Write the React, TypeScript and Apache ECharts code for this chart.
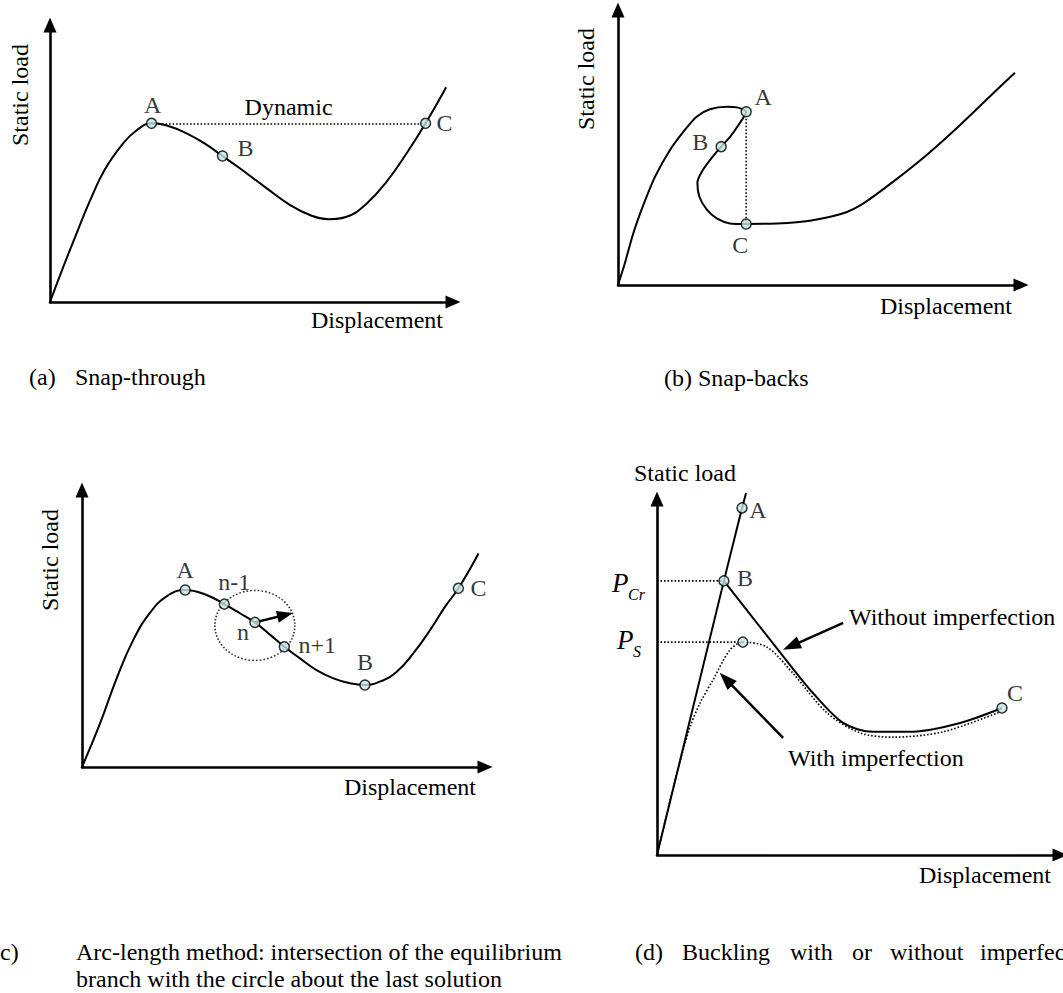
import React, { useEffect, useRef } from 'react';
import * as echarts from 'echarts';

const FONT = '"Liberation Serif", "Times New Roman", serif';

// ---------- (a) Snap-through ----------
const snapThroughCurve = [
  [0, 0], [3.3, 12.7], [6.6, 24.8], [9.9, 36.5], [13.6, 47.8], [18.0, 57.0],
  [21.5, 62.0], [25.2, 64.5], [29.0, 63.7], [33.9, 60.9], [38.9, 56.7],
  [42.8, 52.7], [47.1, 48.3], [53.8, 41.0], [59.6, 35.0], [64.5, 31.4],
  [69.1, 29.9], [73.6, 30.8], [78.6, 35.6], [83.5, 43.4], [88.5, 53.7],
  [93.2, 64.5], [98.3, 77.5],
];
const snapThroughPoints = [
  { name: 'A', value: [25.2, 64.5] },
  { name: 'B', value: [42.8, 52.7] },
  { name: 'C', value: [93.2, 64.5] },
];
const dynamicJump = [[25.2, 64.5], [93.2, 64.5]];

// ---------- (b) Snap-backs ----------
const snapBackCurve = [
  [0, 0], [1.7, 7.9], [3.8, 18.8], [6.3, 29.1], [9.2, 39.4], [12.9, 49.1],
  [16.2, 55.7], [19.5, 61.2], [22.8, 63.9], [27.0, 64.8], [29.5, 64.6],
  [31.8, 63.0], [29.9, 58.2], [27.8, 53.9], [25.6, 50.3], [23.2, 46.1],
  [20.8, 41.2], [19.7, 37.2], [20.2, 32.1], [22.0, 27.5], [24.5, 24.2],
  [27.8, 22.4], [31.8, 22.2], [39.4, 22.4], [47.6, 23.4], [55.9, 26.1],
  [60.9, 29.7], [68.3, 37.6], [76.6, 47.3], [84.9, 58.2], [93.1, 69.7], [98.5, 77.2],
];
const snapBackPoints = [
  { name: 'A', value: [31.8, 63.0] },
  { name: 'B', value: [25.6, 50.3] },
  { name: 'C', value: [31.8, 22.2] },
];
const snapBackJump = [[31.8, 63.0], [31.8, 22.2]];

// ---------- (c) Arc-length method ----------
const arcLengthCurve = [
  [0, 0], [4.5, 15.8], [8.6, 32.0], [12.7, 45.8], [16.9, 55.7], [21.0, 61.6],
  [25.6, 63.9], [30.9, 62.1], [35.3, 58.8], [39.2, 55.5], [42.9, 52.2],
  [46.7, 47.7], [50.2, 43.4], [54.1, 39.2], [58.2, 35.0], [62.4, 32.0],
  [66.5, 30.2], [70.2, 29.6], [73.9, 30.8], [78.1, 34.4], [82.2, 41.0],
  [86.4, 49.5], [90.1, 57.9], [93.4, 64.5], [98.4, 77.1],
];
const arcLengthPoints = [
  { name: 'A', value: [25.6, 63.9] },
  { name: 'n-1', value: [35.3, 58.8] },
  { name: 'n', value: [42.9, 52.2] },
  { name: 'n+1', value: [50.2, 43.4] },
  { name: 'B', value: [70.2, 29.6] },
  { name: 'C', value: [93.4, 64.5] },
];
const arcPredictor = [[42.9, 52.2], [50.4, 54.9]];

// ---------- (d) Buckling ----------
const bucklingPrimary = [[0, 0], [16.6, 77.0], [21.1, 97.5], [22.1, 101.7]];
const bucklingPerfect = [
  [16.6, 77.0], [31.8, 55.1], [38.7, 45.5], [46.2, 37.1], [53.6, 34.6],
  [62.8, 34.6], [75.2, 37.1], [85.6, 41.3],
];
const bucklingImperfect = [
  [0, 0], [4.0, 18.8], [6.5, 29.5], [8.2, 36.0], [10.7, 42.7], [13.9, 49.2],
  [18.1, 57.6], [21.3, 59.8], [27.3, 58.4], [33.7, 51.1], [42.2, 39.9],
  [50.4, 34.3], [58.6, 33.1], [71.0, 34.6], [85.1, 40.2],
];
const bucklingPoints = [
  { name: 'A', value: [21.1, 97.5] },
  { name: 'B', value: [16.6, 77.0] },
  { name: '', value: [21.3, 59.8] },
  { name: 'C', value: [85.6, 41.3] },
];
const criticalLoad = 77.0;
const snapLoad = 59.8;
const withoutArrow = [[46.2, 65.2], [33.3, 58.7]];
const withArrow = [[31.3, 32.9], [17.1, 49.4]];

// label offsets (style)
const labelOffsets: Record<string, Record<string, number[]>> = {
  a: { A: [1, -18], B: [23, -8], C: [19, 0] },
  b: { A: [17, -15], B: [-21, -5], C: [-6, 21] },
  c: { A: [0, -20], 'n-1': [10, -22], n: [-12, 10], 'n+1': [33, -2], B: [0, -23], C: [20, 0] },
  d: { A: [16, 2], B: [21, -3], C: [13, -15], '': [0, 0] },
};

const panels = [
  { left: 50, top: 25, width: 403, height: 277 },
  { left: 618, top: 10, width: 403, height: 275 },
  { left: 82, top: 490, width: 403, height: 277 },
  { left: 657, top: 499, width: 403, height: 356 },
];

const DOT = [1.6, 1.9];

function curve(idx: number, data: number[][], extra: any = {}) {
  return {
    type: 'line', xAxisIndex: idx, yAxisIndex: idx, data,
    smooth: 0.45, symbol: 'none', showSymbol: false, clip: false, silent: true,
    lineStyle: { color: '#000', width: 2 }, z: 3, ...extra,
  };
}

function dotted(idx: number, data: number[][], width = 1.6, smooth: any = false) {
  return {
    type: 'line', xAxisIndex: idx, yAxisIndex: idx, data,
    smooth, symbol: 'none', showSymbol: false, clip: false, silent: true,
    lineStyle: { color: '#000', width, type: DOT }, z: 2,
  };
}

function markers(idx: number, key: string, pts: { name: string; value: number[] }[]) {
  return {
    type: 'scatter', xAxisIndex: idx, yAxisIndex: idx, clip: false, silent: true,
    symbol: 'circle', symbolSize: 10,
    itemStyle: { color: '#c4e3e3', borderColor: '#000', borderWidth: 1.5 },
    label: {
      show: true, position: 'inside', formatter: '{b}', color: '#000',
      fontSize: 24, fontFamily: FONT, textBorderWidth: 0,
    },
    data: pts.map((p) => ({ name: p.name, value: p.value, label: { offset: labelOffsets[key][p.name] } })),
    z: 6,
  };
}

function arrow(idx: number, seg: number[][], size: number[]) {
  return {
    type: 'line', xAxisIndex: idx, yAxisIndex: idx, data: [], silent: true,
    markLine: {
      silent: true, animation: false,
      symbol: ['none', 'triangle'], symbolSize: size,
      label: { show: false },
      lineStyle: { color: '#000', width: 2.5, type: 'solid' },
      emphasis: { disabled: true },
      data: [[{ coord: seg[0] }, { coord: seg[1] }]],
    },
    z: 4,
  };
}

function T(text: string, x: number, y: number, o: any = {}) {
  const align = o.align || 'center';
  return {
    type: 'text', x, y, rotation: o.rotation || 0, silent: true,
    style: {
      text, fill: '#000',
      font: `${o.italic ? 'italic ' : ''}${o.size || 24}px ${FONT}`,
      textAlign: align, align, textVerticalAlign: 'middle', verticalAlign: 'middle',
    },
  };
}

function buildOption() {
  const axisBase = {
    type: 'value', min: 0, max: 100,
    axisLine: {
      show: true, onZero: true, symbol: ['none', 'triangle'], symbolSize: [13, 15],
      lineStyle: { color: '#000', width: 2.6 },
    },
    axisTick: { show: false }, axisLabel: { show: false }, splitLine: { show: false },
  };
  const series: any[] = [
    // (a)
    curve(0, snapThroughCurve),
    {
      type: 'line', xAxisIndex: 0, yAxisIndex: 0, data: [], silent: true,
      markLine: {
        silent: true, animation: false, symbol: ['none', 'none'],
        lineStyle: { color: '#000', width: 1.6, type: DOT },
        emphasis: { disabled: true },
        label: {
          show: true, position: 'insideMiddleTop', formatter: 'Dynamic', distance: 4,
          color: '#000', fontSize: 24, fontFamily: FONT,
        },
        data: [[{ coord: dynamicJump[0] }, { coord: dynamicJump[1] }]],
      },
      z: 2,
    },
    markers(0, 'a', snapThroughPoints),
    // (b)
    curve(1, snapBackCurve, { smooth: 0.25 }),
    dotted(1, snapBackJump),
    markers(1, 'b', snapBackPoints),
    // (c)
    curve(2, arcLengthCurve),
    {
      type: 'scatter', xAxisIndex: 2, yAxisIndex: 2, clip: false, silent: true,
      symbol: 'circle', symbolSize: [80, 70], symbolOffset: [0, 3],
      itemStyle: { color: 'rgba(0,0,0,0)', borderColor: '#000', borderWidth: 1.6, borderType: DOT },
      data: [arcLengthPoints[2].value], z: 1,
    },
    arrow(2, arcPredictor, [12, 16]),
    markers(2, 'c', arcLengthPoints),
    // (d)
    curve(3, bucklingPrimary, { smooth: false }),
    curve(3, bucklingPerfect, { smooth: 0.3 }),
    dotted(3, bucklingImperfect, 1.6, 0.3),
    dotted(3, [[0, criticalLoad], bucklingPoints[1].value]),
    dotted(3, [[0, snapLoad], bucklingPoints[2].value]),
    arrow(3, withoutArrow, [13, 18]),
    arrow(3, withArrow, [13, 18]),
    markers(3, 'd', bucklingPoints),
  ];

  const graphic = [
    // axis titles
    T('Static load', 20, 95, { rotation: Math.PI / 2 }),
    T('Displacement', 377, 320),
    T('Static load', 586, 79, { rotation: Math.PI / 2 }),
    T('Displacement', 946, 306),
    T('Static load', 50, 560, { rotation: Math.PI / 2 }),
    T('Displacement', 410, 787),
    T('Static load', 685, 473),
    T('Displacement', 985, 875),
    // panel (d) annotations
    T('P', 612, 583, { italic: true, size: 27, align: 'left' }),
    T('Cr', 628, 594, { italic: true, size: 16, align: 'left' }),
    T('P', 617, 640, { italic: true, size: 27, align: 'left' }),
    T('S', 633, 651, { italic: true, size: 16, align: 'left' }),
    T('Without imperfection', 849, 617, { align: 'left' }),
    T('With imperfection', 788, 758, { align: 'left' }),
    // captions
    T('(a)', 29, 377, { align: 'left' }),
    T('Snap-through', 75, 377, { align: 'left' }),
    T('(b) Snap-backs', 664, 378, { align: 'left' }),
    T('(c)', -8, 952, { align: 'left' }),
    T('Arc-length method: intersection of the equilibrium', 76, 952, { align: 'left' }),
    T('branch with the circle about the last solution', 76, 979, { align: 'left' }),
    T('(d)', 635, 952, { align: 'left' }),
    T('Buckling', 682, 952, { align: 'left' }),
    T('with', 790, 952, { align: 'left' }),
    T('or', 852, 952, { align: 'left' }),
    T('without', 890, 952, { align: 'left' }),
    T('imperfection', 980, 952, { align: 'left' }),
  ];

  return {
    animation: false,
    backgroundColor: '#fff',
    grid: panels.map((p) => ({ ...p, containLabel: false })),
    xAxis: panels.map((_, i) => ({ ...axisBase, gridIndex: i })),
    yAxis: panels.map((_, i) => ({ ...axisBase, gridIndex: i })),
    series,
    graphic,
  };
}

export default function App() {
  const ref = useRef<HTMLDivElement>(null);
  useEffect(() => {
    const chart = echarts.init(ref.current!, null, { renderer: 'svg' });
    chart.setOption(buildOption() as any);
    return () => chart.dispose();
  }, []);
  return (
    <div
      ref={ref}
      style={{ position: 'absolute', left: 0, top: 0, width: 1063, height: 993, background: '#fff' }}
    />
  );
}
